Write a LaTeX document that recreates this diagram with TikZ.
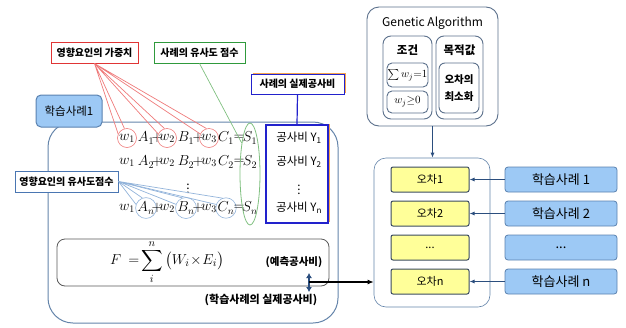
\documentclass[tikz,border=0pt]{standalone}
\usepackage{fontspec}
\setmainfont{Noto Sans CJK KR}
\usepackage{amsmath,amssymb}
\usetikzlibrary{arrows.meta,positioning,shapes.geometric,shadows}
\definecolor{caseblue}{HTML}{9DC9F5}
\definecolor{caseedge}{HTML}{5A82B0}
\definecolor{erryellow}{HTML}{FFFF99}
\definecolor{darkslate}{HTML}{3A4B60}
\definecolor{frameblue}{HTML}{6484AA}
\definecolor{gaedge}{HTML}{5C718C}
\definecolor{tagred}{HTML}{E03535}
\definecolor{linered}{HTML}{EE7A7A}
\definecolor{taggreen}{HTML}{2F9A3C}
\definecolor{linegreen}{HTML}{80C080}
\definecolor{tagblue}{HTML}{2222CC}
\definecolor{simblue}{HTML}{4A76B2}
\definecolor{lineblue}{HTML}{92B3DA}
\definecolor{shadeorange}{HTML}{F7A54A}
\definecolor{arrowblue}{HTML}{2B4E7E}

\tikzset{
  tagbox/.style={rectangle, line width=1pt, fill=white, inner sep=1pt,
    minimum height=21pt, font=\fontsize{10}{11}\selectfont\bfseries},
  orangeshade/.style={general shadow={fill=shadeorange, shadow xshift=1.5pt, shadow yshift=1.5pt}},
  eqsym/.style={circle, inner sep=0pt, minimum size=19pt, line width=0.6pt,
    font=\fontsize{14}{16}\selectfont},
  errbox/.style={rectangle, rounded corners=2pt, draw=darkslate, line width=1pt,
    fill=erryellow, minimum width=78pt, minimum height=25pt, font=\fontsize{11}{13}\selectfont},
  casebox/.style={rectangle, rounded corners=3pt, draw=caseedge, line width=0.8pt,
    fill=caseblue, minimum width=112pt, minimum height=25pt, font=\fontsize{13}{15}\selectfont},
  gabox/.style={rectangle, draw=gaedge, line width=0.9pt, fill=white, inner sep=0pt},
}

\begin{document}
\begin{tikzpicture}[x=1pt, y=-1pt]
  \useasboundingbox (0,0) rectangle (626,327);

  % left frame
  \node[rectangle, rounded corners=25pt, draw=frameblue, line width=1pt,
        minimum width=290pt, minimum height=201pt] (caseframe) at (193,222.5) {};
  \node[rectangle, rounded corners=5pt, draw=caseedge, line width=1pt, fill=caseblue,
        minimum width=66pt, minimum height=32pt, font=\fontsize{11.5}{13}\selectfont]
        (casetag) at (69,111) {학습사례1};

  \node[tagbox, draw=tagred, minimum width=87pt] (weighttag) at (94.5,52.5) {영향요인의 가중치};
  \node[tagbox, draw=taggreen, minimum width=91pt] (scoretag) at (199.5,52.5) {사례의 유사도 점수};
  \node[tagbox, draw=tagblue, orangeshade, minimum width=93pt, minimum height=20pt] (costtag) at (297.5,84) {사례의 실제공사비};
  \node[tagbox, draw=simblue, minimum width=103pt] (simtag) at (66.5,181.5) {영향요인의 유사도점수};

  % equations
  \foreach \r/\y/\wc/\vc in {1/138/linered/none, 2/162/none/none, n/208/none/lineblue} {
    \node[eqsym, draw=\wc] (w1-\r) at (127,\y) {$w_1$};
    \node[eqsym, draw=\vc] (a-\r) at (146,\y) {$A_{\r}$};
    \node[eqsym] (p1-\r) at (157,\y) {$+$};
    \node[eqsym, draw=\wc] (w2-\r) at (167,\y) {$w_2$};
    \node[eqsym, draw=\vc] (b-\r) at (186,\y) {$B_{\r}$};
    \node[eqsym] (p2-\r) at (198,\y) {$+$};
    \node[eqsym, draw=\wc] (w3-\r) at (209,\y) {$w_3$};
    \node[eqsym, draw=\vc] (c-\r) at (226,\y) {$C_{\r}$};
    \node[eqsym] (eq-\r) at (239,\y) {$=$};
    \node[eqsym] (s-\r) at (250,\y) {$S_{\r}$};
  }
  \node[inner sep=0pt, font=\fontsize{12}{14}\selectfont] (eqdots) at (188,186) {$\vdots$};
  \node[ellipse, draw=linegreen, line width=0.8pt, minimum width=20pt, minimum height=102pt,
        inner sep=0pt] (scol) at (250,174) {};

  \node[rectangle, draw=tagblue, line width=1.2pt, fill=white, orangeshade,
        minimum width=62pt, minimum height=98pt] (costbox) at (297,174) {};
  \begin{scope}[every node/.style={font=\fontsize{11.5}{13}\selectfont, inner sep=1pt}]
    \node (cost1) at (299,138) {공사비 Y\textsubscript{1}};
    \node (cost2) at (299,162) {공사비 Y\textsubscript{2}};
    \node (costdots) at (299,187) {$\vdots$};
    \node (costn) at (299,208) {공사비 Y\textsubscript{n}};
  \end{scope}

  % tag connectors
  \begin{scope}[line width=0.7pt]
    \foreach \w in {w1-1, w2-1, w3-1}
      \draw[linered] (weighttag.south) -- (\w.155) (weighttag.south) -- (\w.105);
    \draw[linegreen] (scoretag.south) -- (scol.105);
    \foreach \v in {a-n, b-n, c-n}
      \draw[lineblue] (simtag.east) -- (\v.160) (simtag.east) -- (\v.110);
    \draw[tagblue, line width=1.2pt] (costtag.south) -- (costbox.north);
  \end{scope}

  % objective
  \node[rectangle, rounded corners=8pt, draw=black!65, line width=0.8pt,
        minimum width=272pt, minimum height=47pt] (sumbox) at (193,262.5) {};
  \node[font=\fontsize{15}{18}\selectfont, inner sep=0pt] (sumf) at (167,262)
        {$F\ =\!\displaystyle\sum_{i}^{n}\,\bigl(W_{i}\!\times\! E_{i}\bigr)$};
  \node[font=\fontsize{10.5}{12}\selectfont\bfseries, inner sep=0pt] (predlbl) at (294,262) {(예측공사비)};
  \node[font=\fontsize{11}{12}\selectfont\bfseries, inner sep=0pt] (actlbl) at (261,300) {(학습사례의 실제공사비)};
  \coordinate (cmptop) at (309,273);
  \coordinate (cmpbot) at (309,292);
  \coordinate (cmpmid) at (309,282);
  \draw[{Latex[length=5pt,width=6pt]}-{Latex[length=5pt,width=6pt]}, arrowblue, line width=2pt] (cmptop) -- (cmpbot);

  % genetic algorithm
  \node[gabox, rounded corners=12pt, minimum width=131pt, minimum height=119pt] (gabox) at (432.5,66.5) {};
  \node[font=\fontsize{12}{14}\selectfont] (gatitle) at (432.5,23) {Genetic Algorithm};
  \node[gabox, rounded corners=8pt, minimum width=49pt, minimum height=83pt] (condbox) at (407.5,77.5) {};
  \node[gabox, rounded corners=8pt, minimum width=47pt, minimum height=83pt] (objbox) at (459.5,77.5) {};
  \node[font=\fontsize{11.5}{13}\selectfont\bfseries] (condtitle) at (407.5,50) {조건};
  \node[font=\fontsize{11.5}{13}\selectfont\bfseries] (objtitle) at (459.5,50) {목적값};
  \node[gabox, rounded corners=5pt, minimum width=41pt, minimum height=24pt,
        font=\fontsize{11}{13}\selectfont] (sumcond) at (407.5,75) {$\sum w_j{=}1$};
  \node[gabox, rounded corners=5pt, minimum width=41pt, minimum height=22pt,
        font=\fontsize{11}{13}\selectfont] (poscond) at (407.5,102) {$w_j{\geq}0$};
  \node[gabox, rounded corners=6pt, minimum width=40pt, minimum height=50pt, align=center,
        font=\fontsize{10.5}{17}\selectfont\bfseries] (objin) at (459,88) {오차의\\최소화};

  % errors and cases
  \node[rectangle, rounded corners=12pt, draw=frameblue, line width=0.6pt,
        minimum width=116pt, minimum height=149pt] (errframe) at (432,232.5) {};
  \foreach \i/\y/\e/\c in {1/179.5/오차1/학습사례 1, 2/213.5/오차2/학습사례 2,
                           3/247.5/{...}/{...}, 4/281.5/오차n/학습사례 n} {
    \node[errbox] (err\i) at (430,\y) {\e};
    \node[casebox] (case\i) at (561,\y) {\c};
  }

  \begin{scope}[>={Latex[length=5pt,width=4pt]}, line width=1.3pt, arrowblue]
    \foreach \i in {1,2,4}
      \draw[->] (case\i) -- (err\i);
    \draw[->] (gabox.south) -- (errframe.north -| gabox.south);
  \end{scope}
  \draw[-{Latex[length=6pt,width=5pt]}, line width=1.2pt] (cmpmid) -- (errframe.west |- cmpmid);
\end{tikzpicture}
\end{document}
